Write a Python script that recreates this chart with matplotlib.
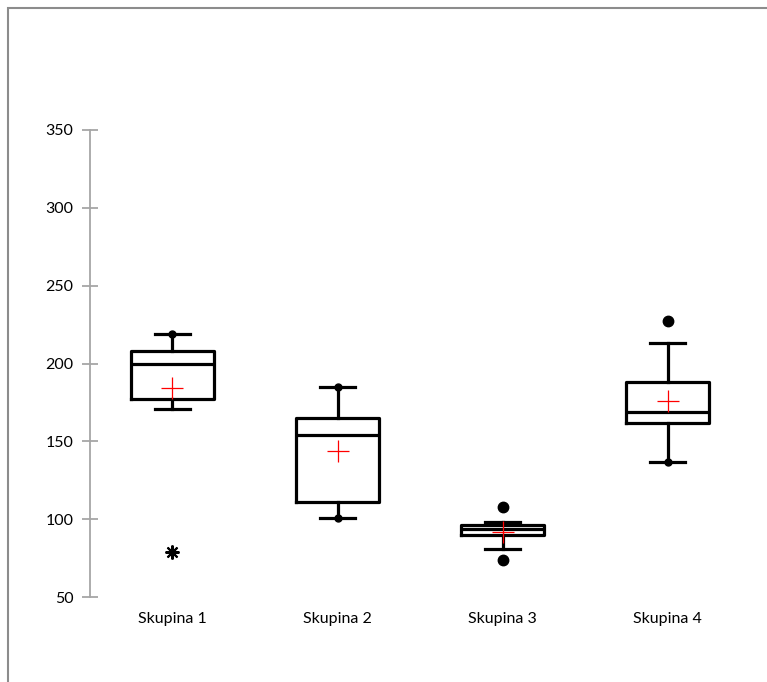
import matplotlib.pyplot as plt
from matplotlib.patches import Rectangle

plt.rcParams['font.family'] = ['Lato', 'DejaVu Sans']

# Data
skupiny = ['Skupina 1', 'Skupina 2', 'Skupina 3', 'Skupina 4']
minima = [171, 101, 81, 137]
q1 = [177, 111, 90, 162]
medians = [200, 154, 94, 169]
q3 = [208, 165, 96, 188]
maxima = [219, 185, 98, 213]
means = [184, 144, 92, 176]
outliers = [[79], [], [74, 108], [227]]
# which whisker ends carry a small dot
dot_lo = [False, True, False, True]
dot_hi = [True, True, False, False]
yticks = [50, 100, 150, 200, 250, 300, 350]

stats = []
for i in range(len(skupiny)):
    stats.append({'label': skupiny[i], 'whislo': minima[i], 'q1': q1[i],
                  'med': medians[i], 'q3': q3[i], 'whishi': maxima[i],
                  'mean': means[i], 'fliers': []})

fig = plt.figure(figsize=(7.67, 6.82), dpi=100)
ax = fig.add_axes([0.1173, 0.1246, 0.8607, 0.6848])

line = dict(color='black', linewidth=2.3)
ax.bxp(stats, positions=[1, 2, 3, 4], widths=0.5, capwidths=0.21,
       showmeans=True, showfliers=False,
       boxprops=line, medianprops=line, whiskerprops=line, capprops=line,
       meanprops=dict(marker='+', markeredgecolor='red', markersize=16,
                      markeredgewidth=0.9))

# small dots at some whisker ends
for i in range(len(skupiny)):
    if dot_lo[i]:
        ax.plot(i + 1, minima[i], 'o', color='black', markersize=5)
    if dot_hi[i]:
        ax.plot(i + 1, maxima[i], 'o', color='black', markersize=5)

# outliers
for i in range(len(skupiny)):
    for v in outliers[i]:
        if i == 0:
            ax.plot(i + 1, v, marker=(8, 2, 0), color='black', markersize=10,
                    markeredgewidth=1.5)
            ax.plot(i + 1, v, 'o', color='black', markersize=4)
        else:
            ax.plot(i + 1, v, 'o', color='black', markersize=7.5)

ax.set_xlim(0.5, 4.5)
ax.set_ylim(50, 350)
ax.set_yticks(yticks)
ax.set_xticks([1, 2, 3, 4])
ax.set_xticklabels(skupiny)

for s in ['top', 'right', 'bottom']:
    ax.spines[s].set_visible(False)
ax.spines['left'].set_color('#a6a6a6')
ax.spines['left'].set_linewidth(1.3)
ax.tick_params(axis='y', direction='inout', length=12, width=1.3,
               color='#a6a6a6', labelsize=11.5, pad=6)
ax.tick_params(axis='x', length=0, labelsize=11.5, pad=11)

# outer chart frame
fig.patches.append(Rectangle((8 / 767, -0.1), 1.2, 1 - 8 / 682 + 0.1,
                             transform=fig.transFigure, fill=False,
                             edgecolor='#8c8c8c', linewidth=1.5))

fig.savefig('out.png')
